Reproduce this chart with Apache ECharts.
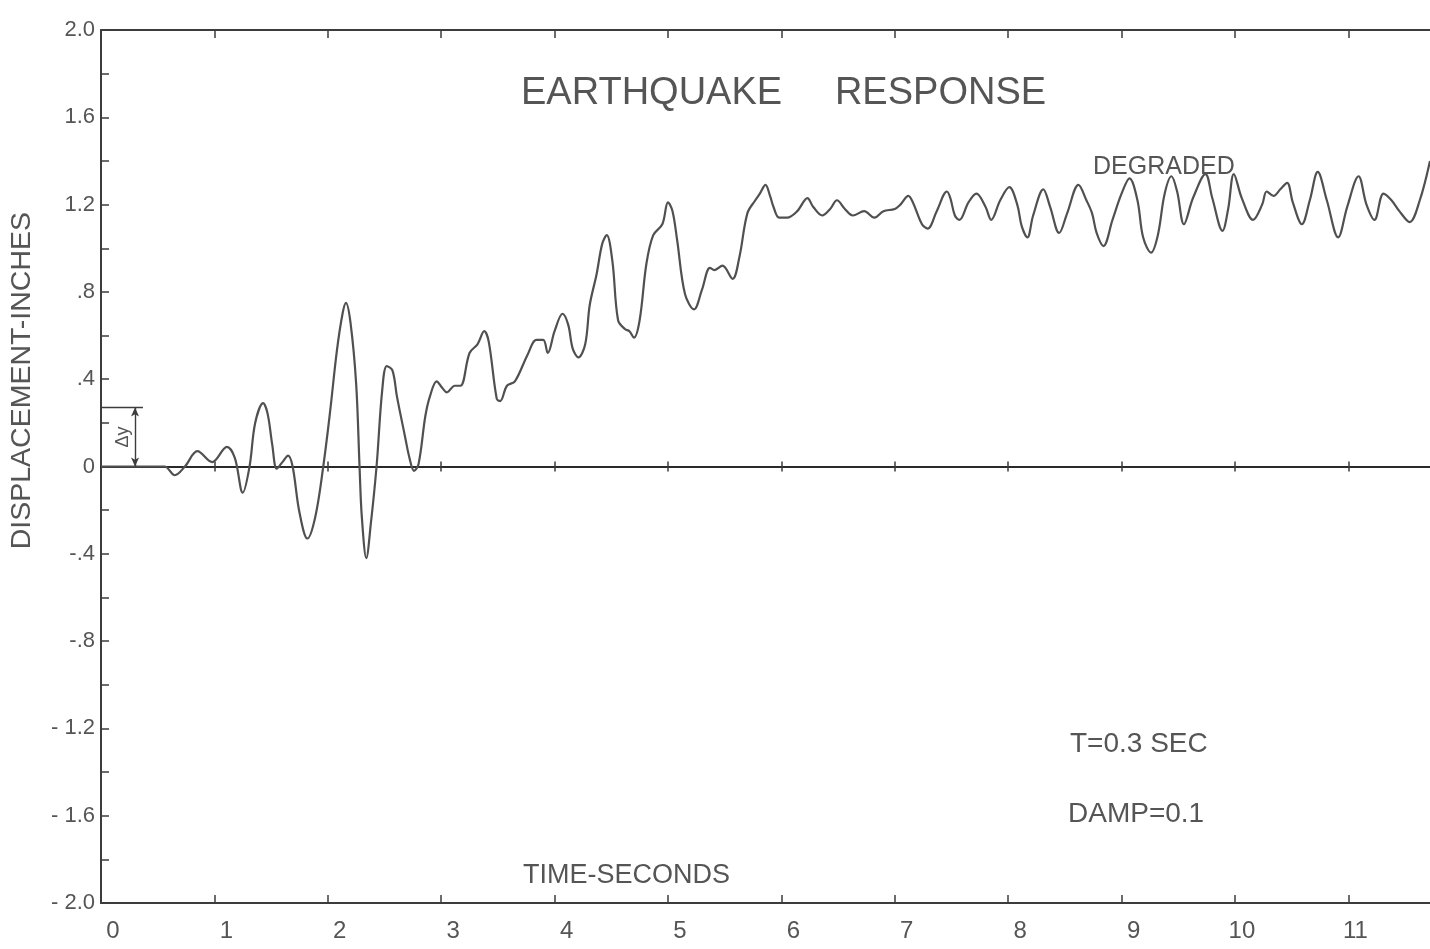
<!DOCTYPE html>
<html>
<head>
<meta charset="utf-8">
<script src="https://cdn.jsdelivr.net/npm/echarts@6/dist/echarts.min.js"></script>
<style>
html,body{margin:0;padding:0;background:#ffffff;}
#chart{width:1430px;height:949px;}
</style>
</head>
<body>
<div id="chart"></div>
<script>
// ---- data ----
const timeSeconds = [
  0.00, 0.30, 0.56, 0.65, 0.74, 0.85, 0.98, 1.11, 1.18, 1.25, 1.31, 1.36, 1.43, 1.47, 1.51, 1.55,
  1.60, 1.65, 1.69, 1.75, 1.82, 1.89, 1.96, 2.02, 2.08, 2.13, 2.16, 2.20, 2.25, 2.28, 2.30, 2.34,
  2.38, 2.43, 2.48, 2.52, 2.57, 2.61, 2.68, 2.72, 2.76, 2.80, 2.86, 2.90, 2.96, 3.01, 3.05, 3.12,
  3.17, 3.25, 3.32, 3.38, 3.42, 3.49, 3.52, 3.58, 3.65, 3.76, 3.84, 3.90, 3.94, 4.00, 4.07, 4.12,
  4.16, 4.21, 4.27, 4.31, 4.37, 4.42, 4.46, 4.51, 4.56, 4.62, 4.66, 4.70, 4.75, 4.81, 4.87, 4.95,
  5.00, 5.04, 5.08, 5.15, 5.23, 5.30, 5.37, 5.41, 5.48, 5.57, 5.63, 5.70, 5.77, 5.81, 5.86, 5.90,
  5.93, 5.98, 6.05, 6.14, 6.23, 6.28, 6.36, 6.43, 6.49, 6.56, 6.63, 6.73, 6.82, 6.90, 7.00, 7.05,
  7.12, 7.16, 7.24, 7.29, 7.37, 7.46, 7.49, 7.53, 7.57, 7.65, 7.72, 7.80, 7.85, 7.93, 8.01, 8.08,
  8.12, 8.17, 8.22, 8.31, 8.37, 8.45, 8.52, 8.62, 8.69, 8.74, 8.78, 8.84, 8.92, 9.00, 9.07, 9.14,
  9.19, 9.26, 9.32, 9.38, 9.44, 9.49, 9.55, 9.63, 9.74, 9.80, 9.89, 9.94, 9.99, 10.06, 10.16, 10.24,
  10.28, 10.34, 10.40, 10.46, 10.51, 10.59, 10.66, 10.73, 10.81, 10.91, 10.99, 11.09, 11.16, 11.23, 11.31, 11.38,
  11.45, 11.54, 11.63, 11.72
];
const displacementInches = [
  0.00, 0.00, 0.00, -0.04, 0.00, 0.07, 0.02, 0.09, 0.04, -0.12, 0.00, 0.20, 0.29, 0.24, 0.10, -0.01,
  0.02, 0.05, 0.00, -0.21, -0.33, -0.23, 0.00, 0.25, 0.53, 0.70, 0.75, 0.66, 0.38, 0.00, -0.23, -0.42,
  -0.26, 0.00, 0.35, 0.46, 0.44, 0.32, 0.14, 0.04, -0.02, 0.01, 0.23, 0.32, 0.39, 0.36, 0.34, 0.37,
  0.37, 0.52, 0.56, 0.62, 0.57, 0.31, 0.30, 0.37, 0.39, 0.51, 0.58, 0.58, 0.52, 0.62, 0.70, 0.65,
  0.54, 0.50, 0.56, 0.74, 0.88, 1.02, 1.06, 0.94, 0.67, 0.63, 0.62, 0.59, 0.67, 0.93, 1.06, 1.11,
  1.21, 1.17, 1.04, 0.79, 0.72, 0.81, 0.91, 0.90, 0.92, 0.86, 0.96, 1.16, 1.22, 1.25, 1.29, 1.24,
  1.19, 1.14, 1.14, 1.17, 1.23, 1.19, 1.15, 1.18, 1.22, 1.18, 1.15, 1.17, 1.14, 1.17, 1.18, 1.20,
  1.24, 1.21, 1.11, 1.09, 1.17, 1.26, 1.23, 1.15, 1.13, 1.21, 1.25, 1.19, 1.13, 1.22, 1.28, 1.20,
  1.10, 1.05, 1.15, 1.27, 1.19, 1.07, 1.16, 1.29, 1.22, 1.16, 1.07, 1.01, 1.13, 1.25, 1.32, 1.22,
  1.05, 0.98, 1.06, 1.25, 1.33, 1.26, 1.11, 1.23, 1.34, 1.23, 1.08, 1.18, 1.34, 1.23, 1.13, 1.20,
  1.26, 1.24, 1.27, 1.30, 1.21, 1.11, 1.22, 1.35, 1.22, 1.05, 1.19, 1.33, 1.20, 1.13, 1.25, 1.22,
  1.17, 1.12, 1.22, 1.40
];
const xTickValues = [0, 1, 2, 3, 4, 5, 6, 7, 8, 9, 10, 11];
const xTickLabels = ['0', '1', '2', '3', '4', '5', '6', '7', '8', '9', '10', '11'];
const yTickValues = [-2.0, -1.6, -1.2, -0.8, -0.4, 0, 0.4, 0.8, 1.2, 1.6, 2.0];
const yTickLabels = ['- 2.0', '- 1.6', '- 1.2', '-.8', '-.4', '0', '.4', '.8', '1.2', '1.6', '2.0'];
const yieldDisplacement = 0.27;   // the "Δy" bracket
const titleText = 'EARTHQUAKE     RESPONSE';
const yAxisTitle = 'DISPLACEMENT-INCHES';
const xAxisTitle = 'TIME-SECONDS';
const curveLabel = 'DEGRADED';
const periodNote = 'T=0.3 SEC';
const dampNote = 'DAMP=0.1';

// ---- chart ----
const X_MAX = 11.72;
const INK = '#3c3c3c';
const TXT = '#555555';
const FONT = '"Liberation Sans", "DejaVu Sans", sans-serif';

const curve = timeSeconds.map((t, i) => [t, displacementInches[i]]);
const minorTicks = xTickValues.filter(v => v > 0);

const chart = echarts.init(document.getElementById('chart'), null, {renderer: 'canvas'});

const hiddenLabel = {show: false};
const noSplit = {show: false};

chart.setOption({
  animation: false,
  backgroundColor: '#ffffff',
  title: {
    text: titleText,
    left: 516,
    top: 70,
    textStyle: {fontFamily: FONT, fontSize: 38, fontWeight: 'normal', color: TXT}
  },
  grid: {left: 101, right: 0, top: 30, bottom: 46, containLabel: false},
  xAxis: [
    {
      type: 'value', min: 0, max: X_MAX, position: 'bottom',
      axisLine: {onZero: false, lineStyle: {color: INK, width: 2}},
      axisTick: {customValues: minorTicks, inside: true, length: 8, lineStyle: {color: INK, width: 1.5}},
      axisLabel: {
        customValues: xTickValues,
        margin: 16,
        formatter: v => {
          const s = xTickLabels[xTickValues.indexOf(Math.round(v))];
          return s.length > 1 ? '{b|' + s + '}' : '{a|' + s + '}';
        },
        rich: {
          a: {fontFamily: FONT, fontSize: 24, color: TXT, padding: [0, 0, 0, 24]},
          b: {fontFamily: FONT, fontSize: 24, color: TXT, padding: [0, 0, 0, 14]}
        }
      },
      splitLine: noSplit
    },
    {
      type: 'value', min: 0, max: X_MAX, position: 'top',
      axisLine: {onZero: false, lineStyle: {color: INK, width: 2}},
      axisTick: {customValues: minorTicks, inside: true, length: 8, lineStyle: {color: INK, width: 1.5}},
      axisLabel: hiddenLabel, splitLine: noSplit
    },
    {
      type: 'value', min: 0, max: X_MAX, position: 'bottom',
      axisLine: {onZero: true, onZeroAxisIndex: 0, lineStyle: {color: '#2a2a2a', width: 2}},
      axisTick: {customValues: minorTicks, inside: true, length: 5, lineStyle: {color: INK, width: 1.5}},
      axisLabel: hiddenLabel, splitLine: noSplit
    },
    {
      type: 'value', min: 0, max: X_MAX, position: 'bottom',
      axisLine: {onZero: true, onZeroAxisIndex: 0, lineStyle: {color: '#2a2a2a', width: 2}},
      axisTick: {customValues: minorTicks, inside: false, length: 5, lineStyle: {color: INK, width: 1.5}},
      axisLabel: hiddenLabel, splitLine: noSplit
    }
  ],
  yAxis: {
    type: 'value', min: -2, max: 2, interval: 0.2,
    axisLine: {onZero: false, lineStyle: {color: INK, width: 2}},
    axisTick: {inside: true, length: 8, lineStyle: {color: INK, width: 1.5}},
    axisLabel: {
      customValues: yTickValues,
      margin: 6,
      fontFamily: FONT, fontSize: 22, color: TXT,
      formatter: v => {
        const i = yTickValues.findIndex(y => Math.abs(y - v) < 1e-6);
        return i >= 0 ? yTickLabels[i] : '';
      }
    },
    splitLine: noSplit
  },
  series: [
    {
      name: curveLabel,
      type: 'line',
      xAxisIndex: 0,
      yAxisIndex: 0,
      data: curve,
      showSymbol: false,
      symbol: 'none',
      smooth: 0.35,
      lineStyle: {color: '#505050', width: 2.2},
      markLine: {
        silent: true,
        symbol: ['none', 'none'],
        label: {show: false},
        lineStyle: {color: INK, width: 1.4, type: 'solid'},
        data: [
          [{coord: [0, yieldDisplacement]}, {coord: [0.37, yieldDisplacement]}],
          [{coord: [0.30, 0], symbol: 'arrow', symbolSize: [6, 9]},
           {coord: [0.30, yieldDisplacement], symbol: 'arrow', symbolSize: [6, 9]}]
        ]
      },
      markPoint: {
        silent: true,
        symbol: 'circle',
        symbolSize: 0,
        data: [{coord: [0.19, yieldDisplacement / 2], value: 'Δy'}],
        label: {
          show: true,
          position: 'inside',
          rotate: 90,
          formatter: 'Δy',
          fontFamily: FONT, fontSize: 18, color: TXT
        }
      }
    }
  ],
  graphic: [
    {type: 'text', left: 8, top: 212, rotation: Math.PI / 2, style: {text: yAxisTitle, font: '28.5px ' + FONT, fill: TXT}},
    {type: 'text', left: 523, top: 862, style: {text: xAxisTitle, font: '27px ' + FONT, fill: TXT}},
    {type: 'text', left: 1093, top: 155, style: {text: curveLabel, font: '25px ' + FONT, fill: TXT}},
    {type: 'text', left: 1070, top: 730, style: {text: periodNote, font: '28px ' + FONT, fill: TXT}},
    {type: 'text', left: 1068, top: 800, style: {text: dampNote, font: '28px ' + FONT, fill: TXT}}
  ]
});
</script>
</body>
</html>
